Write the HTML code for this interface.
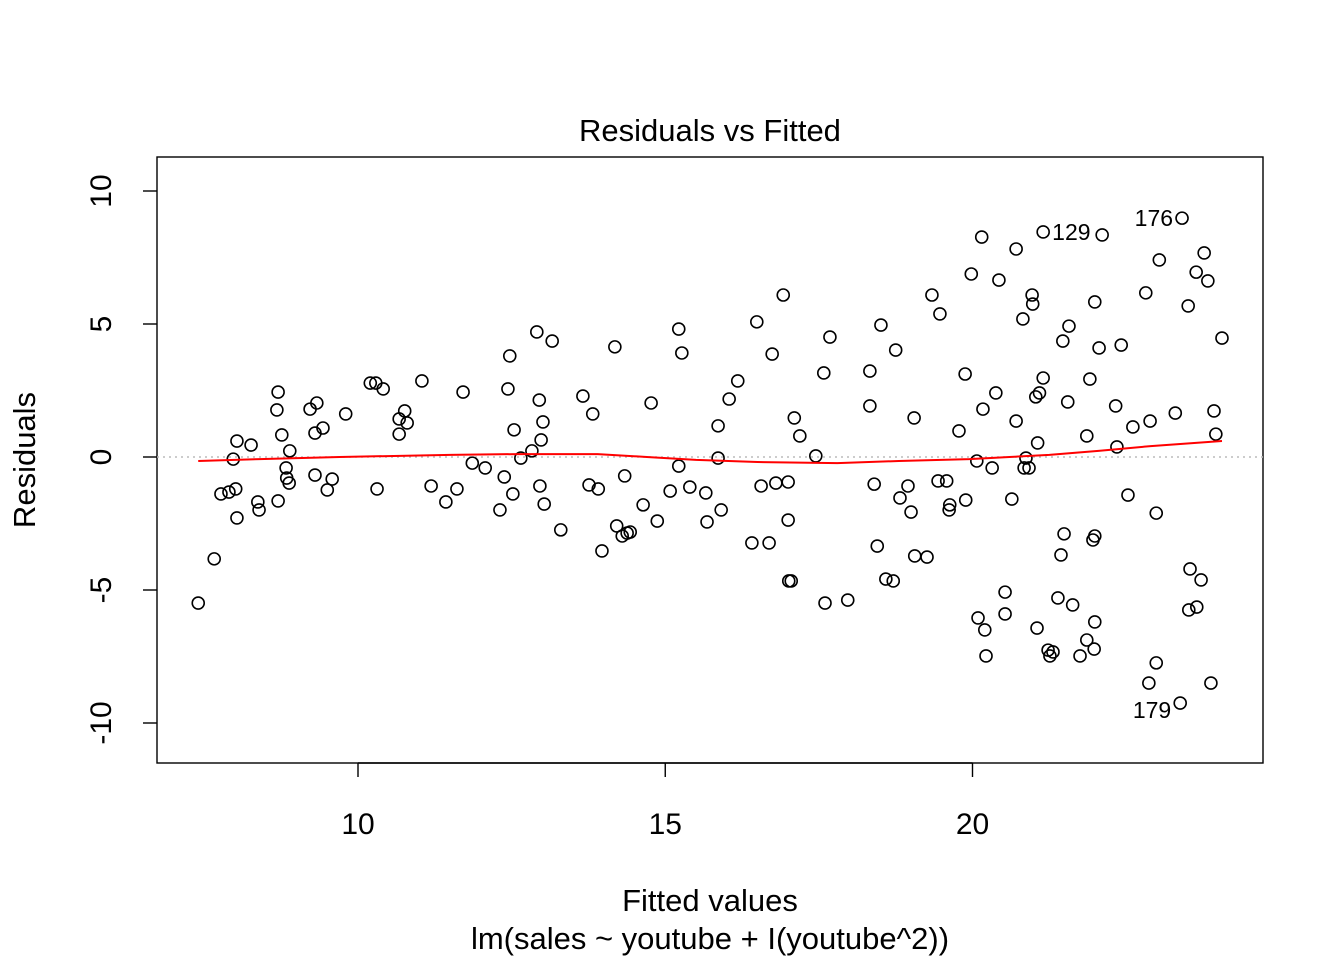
<!DOCTYPE html>
<html><head><meta charset="utf-8"><style>
body{margin:0;background:#fff}
svg text{font-family:"Liberation Sans",Arial,sans-serif;fill:#000}
</style></head><body>
<svg id="c" width="1344" height="960" xmlns="http://www.w3.org/2000/svg"></svg>
<script>
const fitted=[7.40,7.66,7.77,7.90,8.01,7.97,8.03,8.03,8.26,8.37,8.39,8.68,8.70,8.76,8.70,8.83,8.84,8.88,8.89,9.22,9.33,9.30,9.43,9.30,9.50,9.58,9.80,10.20,10.29,10.41,10.31,10.67,10.67,10.76,10.80,11.04,11.19,11.43,11.61,11.71,11.86,12.07,12.31,12.38,12.44,12.47,12.54,12.52,12.65,12.83,12.91,12.96,12.95,12.98,13.01,13.03,13.16,13.30,13.66,13.76,13.82,13.91,13.97,14.18,14.21,14.30,14.34,14.38,14.43,14.64,14.77,14.87,15.08,15.22,15.22,15.27,15.40,15.66,15.68,15.86,15.86,15.91,16.04,16.18,16.41,16.49,16.56,16.69,16.74,16.80,16.92,17.00,17.00,17.01,17.05,17.10,17.19,17.45,17.58,17.60,17.68,17.97,18.33,18.33,18.40,18.45,18.51,18.59,18.71,18.75,18.82,18.95,19.00,19.05,19.06,19.26,19.34,19.44,19.47,19.58,19.63,19.62,19.78,19.88,19.89,19.98,20.07,20.09,20.15,20.17,20.20,20.22,20.32,20.38,20.43,20.53,20.53,20.64,20.71,20.71,20.82,20.84,20.87,20.92,20.97,20.98,21.03,21.06,21.05,21.09,21.15,21.15,21.23,21.26,21.31,21.39,21.44,21.47,21.49,21.55,21.57,21.63,21.75,21.86,21.86,21.91,21.96,21.99,21.99,21.99,21.98,22.06,22.11,22.33,22.35,22.42,22.53,22.61,22.82,22.87,22.89,22.99,22.99,23.04,23.30,23.38,23.41,23.51,23.52,23.54,23.64,23.65,23.72,23.77,23.83,23.88,23.93,23.96,24.06];
const resid=[-5.49,-3.83,-1.39,-1.32,-1.20,-0.08,0.60,-2.29,0.45,-1.69,-1.99,1.77,2.44,0.83,-1.65,-0.41,-0.79,-0.98,0.23,1.80,2.03,0.90,1.09,-0.68,-1.24,-0.83,1.62,2.78,2.78,2.56,-1.20,0.86,1.43,1.73,1.28,2.86,-1.09,-1.69,-1.20,2.44,-0.23,-0.41,-1.99,-0.75,2.56,3.80,1.02,-1.39,-0.04,0.23,4.70,-1.09,2.14,0.64,1.32,-1.77,4.36,-2.74,2.29,-1.05,1.62,-1.20,-3.53,4.14,-2.59,-2.97,-0.71,-2.86,-2.82,-1.80,2.03,-2.41,-1.28,4.81,-0.34,3.91,-1.13,-1.35,-2.44,1.17,-0.04,-1.99,2.18,2.86,-3.23,5.08,-1.09,-3.23,3.87,-0.98,6.09,-2.37,-0.94,-4.66,-4.66,1.47,0.79,0.04,3.16,-5.49,4.51,-5.38,3.23,1.92,-1.02,-3.35,4.96,-4.59,-4.66,4.02,-1.54,-1.09,-2.07,1.47,-3.72,-3.76,6.09,-0.90,5.38,-0.90,-1.80,-1.99,0.98,3.12,-1.62,6.88,-0.15,-6.05,8.27,1.80,-6.50,-7.48,-0.41,2.41,6.65,-5.08,-5.90,-1.58,7.82,1.35,5.19,-0.41,-0.04,-0.41,6.09,5.75,2.26,0.53,-6.43,2.41,2.97,8.46,-7.26,-7.48,-7.33,-5.30,-3.68,4.36,-2.89,2.07,4.92,-5.56,-7.48,0.79,-6.88,2.93,-3.12,5.83,-2.97,-6.20,-7.22,4.10,8.35,1.92,0.38,4.21,-1.43,1.13,6.17,-8.50,1.35,-2.11,-7.74,7.41,1.65,-9.25,8.98,5.68,-5.75,-4.21,6.95,-5.64,-4.62,7.67,6.62,-8.50,1.73,0.86,4.47];
const smoothX=[7.40,8.4,9.7,11.5,12.6,13.9,14.7,15.5,16.5,17.8,18.8,19.95,20.6,21.25,22.05,22.9,24.06];
const smoothY=[-0.15,-0.08,0,0.08,0.11,0.11,0,-0.11,-0.19,-0.23,-0.15,-0.08,0,0.08,0.23,0.41,0.6];
const xTicks=[10,15,20];
const yTicks=[-10,-5,0,5,10];
const labelIdx=[151,186,185];
const labelTxt=["129","176","179"];

const NS="http://www.w3.org/2000/svg";
const svg=document.getElementById('c');
const X=v=>358+(v-10)*61.45;
const Y=v=>457-v*26.6;
function mk(t,a,p){const e=document.createElementNS(NS,t);for(const k in a)e.setAttribute(k,a[k]);(p||svg).appendChild(e);return e;}

const box=mk('rect',{x:157,y:157,width:1106,height:606,fill:'none',stroke:'#000','stroke-width':1.4});


const zl=mk('line',{x1:157,x2:1263,y1:Y(0),y2:Y(0),stroke:'#bbb','stroke-width':1.4,'stroke-dasharray':'2 4'});



xTicks.forEach(t=>{
  const l=mk('line',{x1:X(t),x2:X(t),y1:763,y2:777,stroke:'#000','stroke-width':1.4});
  
  
  const tx=mk('text',{x:X(t),y:834,'font-size':30,'text-anchor':'middle'});tx.textContent=t;
  
  
});
const xl=mk('line',{x1:X(10),x2:X(20),y1:763,y2:763,stroke:'#000','stroke-width':1.4});


yTicks.forEach(t=>{
  const l=mk('line',{x1:143,x2:157,y1:Y(t),y2:Y(t),stroke:'#000','stroke-width':1.4});
  
  
  const tx=mk('text',{x:0,y:0,'font-size':30,'text-anchor':'middle',transform:`translate(111,${Y(t)}) rotate(-90)`});tx.textContent=t;
  
  
});

fitted.forEach((f,i)=>{
  const c=mk('circle',{cx:X(f),cy:Y(resid[i]),r:6,fill:'none',stroke:'#000','stroke-width':1.6});
  
  
});

const sm=mk('polyline',{points:smoothX.map((x,i)=>X(x)+','+Y(smoothY[i])).join(' '),fill:'none',stroke:'#f00','stroke-width':2});



labelIdx.forEach((idx,k)=>{
  const px=X(fitted[idx]),py=Y(resid[idx]);
  const right=k===0;
  const tx=mk('text',{x:right?px+9:px-9,y:py+(k===2?15:8),'font-size':23,'text-anchor':right?'start':'end'});
  tx.textContent=labelTxt[k];
  
  
});
</script>
<div style="position:absolute;left:0;top:0;width:1344px;height:960px;pointer-events:none">
<svg width="1344" height="960" xmlns="http://www.w3.org/2000/svg">
<text x="710" y="141" font-size="31" text-anchor="middle" font-family="Liberation Sans, sans-serif">Residuals vs Fitted</text>
<text x="710" y="911" font-size="31" text-anchor="middle" font-family="Liberation Sans, sans-serif">Fitted values</text>
<text x="710" y="949" font-size="31" text-anchor="middle" font-family="Liberation Sans, sans-serif">lm(sales ~ youtube + I(youtube^2))</text>
<text x="0" y="0" font-size="31" text-anchor="middle" font-family="Liberation Sans, sans-serif" transform="translate(35,460) rotate(-90)">Residuals</text>
</svg></div>
</body></html>
